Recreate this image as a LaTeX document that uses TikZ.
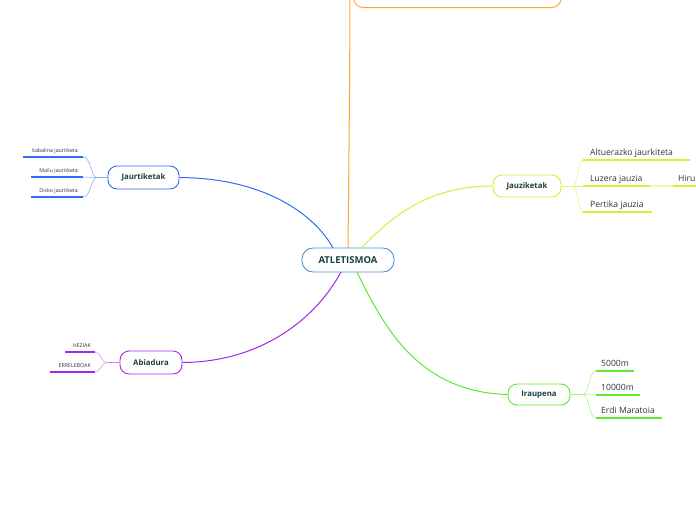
\documentclass[tikz,border=0pt]{standalone}
\usepackage{fontspec}
\setmainfont{Open Sans}
\begin{document}
\begin{tikzpicture}[x=1pt,y=-1pt,
  topic/.style={draw,rounded corners=9pt,line width=0.9pt,fill=white,inner sep=0pt,font=\bfseries\fontsize{7.8}{9}\selectfont,text=txtgreen},
  lab/.style={inner sep=0pt,text=black!80},
  smalllab/.style={lab,font=\fontsize{5.3}{6}\selectfont},
  biglab/.style={lab,font=\fontsize{8.6}{10}\selectfont},
  branch/.style={line width=1pt},
  sub/.style={line width=0.5pt},
  under/.style={line width=1.6pt}]
\definecolor{txtgreen}{HTML}{1A4238}
\definecolor{cmain}{HTML}{4A90D9}
\definecolor{cblue}{HTML}{2F6BF5}
\definecolor{cyel}{HTML}{D2F03A}
\definecolor{cgreen}{HTML}{5AEA2A}
\definecolor{cpurp}{HTML}{A526EE}
\definecolor{corange}{HTML}{FFA722}
\useasboundingbox (0,0) rectangle (696,520);
\clip (0,0) rectangle (696,520);
% top (cut) box
\node[draw=corange,line width=0.9pt,rounded corners=10pt,minimum width=208pt,minimum height=30pt,inner sep=0pt,anchor=south west] (top) at (353,8) {};
\coordinate (topc) at (350,-30);
% central
\node[draw=cmain,line width=0.9pt,rounded corners=11pt,minimum width=92pt,minimum height=24pt,inner sep=0pt,fill=white,font=\bfseries\fontsize{9.5}{11}\selectfont,text=txtgreen] (atl) at (348,260) {ATLETISMOA};
\coordinate (aN1) at (333,248);
\coordinate (aN2) at (348,248);
\coordinate (aN3) at (361,248);
\coordinate (aS1) at (341,272);
\coordinate (aS2) at (357,272);
% topics
\node[topic,draw=cblue,minimum width=71pt,minimum height=23pt] (jaur) at (143.5,177.5) {Jaurtiketak};
\node[topic,draw=cyel,minimum width=68pt,minimum height=22pt] (jauz) at (527,186) {Jauziketak};
\node[topic,draw=cgreen,minimum width=62pt,minimum height=21pt] (irau) at (539,394.5) {Iraupena};
\node[topic,draw=cpurp,minimum width=62pt,minimum height=23pt] (abia) at (151,362.5) {Abiadura};
% main branches
\draw[branch,corange] (aN2) .. controls (349,150) and (350,60) .. (topc);
\draw[branch,cblue] (jaur.east) .. controls (265,178) and (315,215) .. (aN1);
\draw[branch,cyel] (aN3) .. controls (385,225) and (420,186) .. (jauz.west);
\draw[branch,cgreen] (aS2) .. controls (385,330) and (420,392) .. (irau.west);
\draw[branch,cpurp] (aS1) .. controls (315,320) and (260,362) .. (abia.east);
% --- Jaurtiketak children
\coordinate (jf) at (97,177.5);
\coordinate (j1) at (83,157);
\coordinate (j2) at (83,177);
\coordinate (j3) at (83,197);
\draw[sub,cblue!60] (jaur.west) -- (jf);
\draw[sub,cblue!60] (jf) .. controls (91,177.5) and (91,157) .. (j1);
\draw[sub,cblue!60] (jf) -- (j2);
\draw[sub,cblue!60] (jf) .. controls (91,177.5) and (91,197) .. (j3);
\draw[under,cblue] (23,157) -- (j1);
\draw[under,cblue] (31,177) -- (j2);
\draw[under,cblue] (31,197) -- (j3);
\node[smalllab,anchor=base east] (t1) at (78,152) {Xabalina jaurtiketa};
\node[smalllab,anchor=base east] (t2) at (78,172) {Mailu jaurtiketa};
\node[smalllab,anchor=base east] (t3) at (78,192) {Disko jaurtiketa};
% --- Jauziketak children
\coordinate (zf) at (573,186);
\coordinate (z1) at (583,160);
\coordinate (z2) at (583,186);
\coordinate (z3) at (583,212);
\draw[sub,cyel!70] (jauz.east) -- (zf);
\draw[sub,cyel!70] (zf) .. controls (578,186) and (578,160) .. (z1);
\draw[sub,cyel!70] (zf) -- (z2);
\draw[sub,cyel!70] (zf) .. controls (578,186) and (578,212) .. (z3);
\draw[under,cyel] (z1) -- (690,160);
\draw[under,cyel] (z2) -- (650,186);
\coordinate (h1) at (650,186);
\coordinate (h2) at (673,186);
\draw[sub,cyel!40,line width=1.2pt] (h1) -- (h2);
\draw[under,cyel] (h2) -- (700,186);
\draw[under,cyel] (z3) -- (652,212);
\node[biglab,anchor=base west] (u1) at (590,155) {Altuerazko jaurkiteta};
\node[biglab,anchor=base west] (u2) at (590,181) {Luzera jauzia};
\node[biglab,anchor=base west] (u3) at (678,181) {Hiru};
\node[biglab,anchor=base west] (u4) at (590,207) {Pertika jauzia};
% --- Iraupena children
\coordinate (rf) at (583,394.5);
\coordinate (r1) at (596,371);
\coordinate (r2) at (596,395);
\coordinate (r3) at (596,418);
\draw[sub,cgreen!60] (irau.east) -- (rf);
\draw[sub,cgreen!60] (rf) .. controls (589,394.5) and (589,371) .. (r1);
\draw[sub,cgreen!60] (rf) -- (r2);
\draw[sub,cgreen!60] (rf) .. controls (589,394.5) and (589,418) .. (r3);
\draw[under,cgreen] (r1) -- (634,371);
\draw[under,cgreen] (r2) -- (640,395);
\draw[under,cgreen] (r3) -- (662,418);
\node[biglab,anchor=base west] (v1) at (601,366) {5000m};
\node[biglab,anchor=base west] (v2) at (601,390) {10000m};
\node[biglab,anchor=base west] (v3) at (601,413) {Erdi Maratoia};
% --- Abiadura children
\coordinate (bf) at (107,362.5);
\coordinate (b1) at (95,352);
\coordinate (b2) at (95,372);
\draw[sub,cpurp!55] (abia.west) -- (bf);
\draw[sub,cpurp!55] (bf) .. controls (101,362.5) and (101,352) .. (b1);
\draw[sub,cpurp!55] (bf) .. controls (101,362.5) and (101,372) .. (b2);
\draw[under,cpurp] (65,352) -- (b1);
\draw[under,cpurp] (50,372) -- (b2);
\node[smalllab,anchor=base east] (w1) at (91,347) {HEZIAK};
\node[smalllab,anchor=base east] (w2) at (91,367) {ERRELEBOAK};
\end{tikzpicture}
\end{document}
